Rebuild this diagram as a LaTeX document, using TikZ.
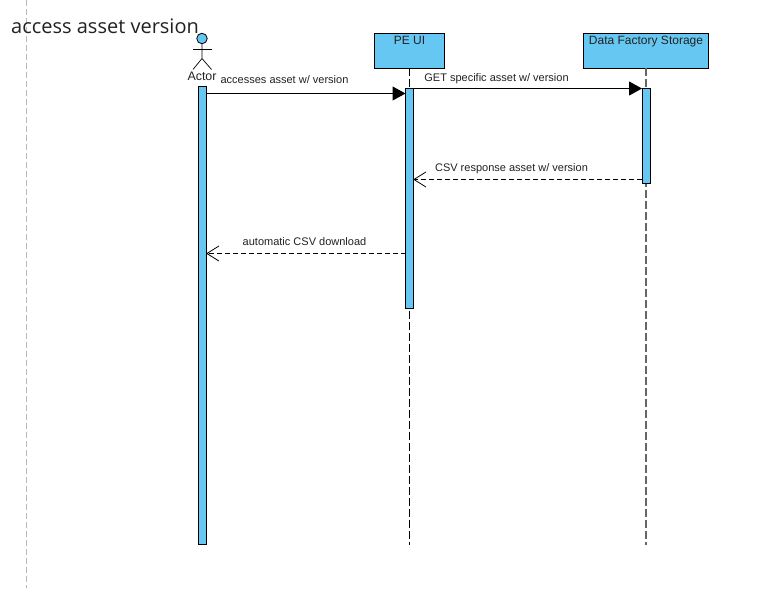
\documentclass[tikz,border=0pt]{standalone}
\usepackage{fontspec}
\setmainfont{Liberation Sans}
\newfontfamily\titlefont{Open Sans}
\usetikzlibrary{arrows.meta}
\definecolor{fillblue}{HTML}{66C7F2}
\definecolor{textgray}{HTML}{222222}
\tikzset{
  x=1pt,y=-1pt,
  head box/.style={draw=black,fill=fillblue,line width=1pt,inner sep=0pt,outer sep=0pt,minimum height=35pt},
  head text/.style={font=\fontsize{12}{14}\selectfont,text=textgray,inner sep=0pt,anchor=base},
  bar/.style={draw=black,fill=fillblue,line width=1pt,inner sep=0pt,outer sep=0pt,minimum width=8pt},
  lifeline/.style={line width=.8pt,dash pattern=on 8pt off 3pt},
  msgtext/.style={font=\fontsize{11}{13}\selectfont,text=textgray,inner sep=0pt,anchor=base},
  callmsg/.style={line width=1pt,-{Triangle[length=13pt,width=14pt]}},
  replymsg/.style={line width=.8pt,dash pattern=on 5pt off 3pt,-{Straight Barb[length=12pt,width=15pt,line width=.8pt,round]}},
}
\begin{document}
\begin{tikzpicture}
\useasboundingbox (0,0) rectangle (783,588);
\fill[white] (0,0) rectangle (783,588);
% page guide
\coordinate (guideTop) at (26.5,0);
\coordinate (guideBottom) at (26.5,588);
\draw[draw=black!28,line width=.8pt,dash pattern=on 6pt off 3pt] (guideTop) -- (guideBottom);
% title
\node[font=\titlefont\fontsize{20}{24}\selectfont,text=textgray,anchor=base west,inner sep=0pt] (title) at (11,33.6) {access asset version};
% heads
\node[head box,minimum width=70pt] (pehead) at (409.5,51) {};
\node[head box,minimum width=125pt] (dfhead) at (646,51) {};
\node[head text] (pelabel) at (409.5,44.3) {PE UI};
\node[head text] (dflabel) at (646,44.3) {Data Factory Storage};
% lifeline ends
\coordinate (peend) at (409.5,545);
\coordinate (dfend) at (646,545);
\draw[lifeline,draw=black] (pehead.south) -- (peend);
\draw[lifeline,draw=black!60,line width=1.1pt] (dfhead.south) -- (dfend);
% actor
\node[circle,draw=black,fill=fillblue,line width=.8pt,minimum size=10.5pt,inner sep=0pt] (actorhead) at (202,38.5) {};
\coordinate (hip) at (202,58.5);
\coordinate (armL) at (193,49.5);
\coordinate (armR) at (212,49.5);
\coordinate (footL) at (193,69.5);
\coordinate (footR) at (211.5,69.5);
\draw[line width=.7pt] (actorhead.south) -- (hip) (armL) -- (armR) (footL) -- (hip) -- (footR);
\node[head text,font=\fontsize{12.4}{14}\selectfont] (actorlabel) at (202,80.5) {Actor};
% activation bars
\node[bar,minimum height=458pt] (actbar) at (202.5,315.5) {};
\node[bar,minimum height=220pt] (pebar) at (409.5,198.5) {};
\node[bar,minimum height=95pt] (dfbar) at (646,136) {};
% messages
\draw[callmsg] ([yshift=-7pt]actbar.north east) -- ([yshift=-5pt]pebar.north west);
\draw[callmsg] (pebar.north east) -- (dfbar.north west);
\draw[replymsg] ([yshift=4pt]dfbar.south west) -- (pebar.east |- {0,179.5});
\draw[replymsg] (pebar.west |- {0,253.5}) -- (actbar.east |- {0,253.5});
% labels
\node[msgtext] (m1) at (284.5,83.5) {accesses asset w/ version};
\node[msgtext] (m2) at (496.5,81.5) {GET specific asset w/ version};
\node[msgtext] (m3) at (511.5,171.5) {CSV response asset w/ version};
\node[msgtext] (m4) at (304.5,245.5) {automatic CSV download};
\end{tikzpicture}
\end{document}
